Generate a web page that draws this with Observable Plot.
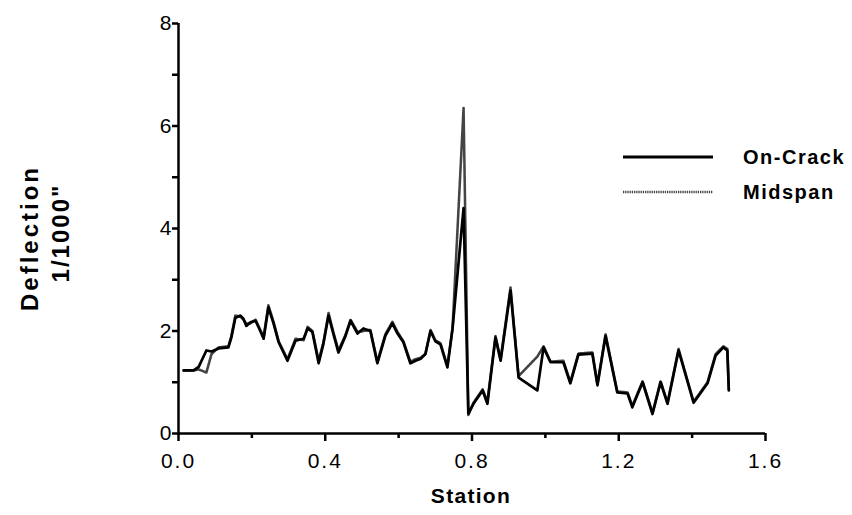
<!DOCTYPE html>
<html>
<head>
<meta charset="utf-8">
<script src="https://cdn.jsdelivr.net/npm/d3@7"></script>
<script src="https://cdn.jsdelivr.net/npm/@observablehq/plot@0.6"></script>
<style>
  body { margin: 0; background: #fff; }
  #wrap { position: relative; width: 852px; height: 515px; font-family: "Liberation Sans", Arial, sans-serif; }
  #wrap svg g[aria-label="x-axis tick label"] text { letter-spacing: 2px; }
  .lab { position: absolute; font-weight: bold; color: #000; white-space: nowrap; }
</style>
</head>
<body>
<div id="wrap"></div>
<script>
const stations = [0.014,0.041,0.055,0.076,0.090,0.109,0.136,0.144,0.155,0.169,0.177,0.185,0.196,0.210,0.223,0.232,0.245,0.259,0.273,0.297,0.319,0.341,0.352,0.365,0.382,0.395,0.409,0.422,0.436,0.455,0.469,0.488,0.504,0.523,0.542,0.564,0.583,0.597,0.613,0.632,0.646,0.660,0.673,0.687,0.700,0.714,0.733,0.747,0.777,0.790,0.804,0.829,0.842,0.864,0.878,0.905,0.927,0.978,0.995,1.014,1.049,1.068,1.090,1.128,1.142,1.164,1.196,1.224,1.237,1.265,1.292,1.314,1.333,1.363,1.404,1.442,1.464,1.485,1.496,1.500];
const onCrack = [1.23,1.23,1.30,1.62,1.60,1.66,1.68,1.87,2.26,2.30,2.24,2.10,2.17,2.20,2.00,1.85,2.46,2.15,1.78,1.42,1.81,1.85,2.05,1.98,1.37,1.75,2.30,1.95,1.58,1.90,2.20,1.95,2.05,2.00,1.37,1.91,2.15,1.95,1.78,1.37,1.42,1.46,1.55,2.00,1.80,1.74,1.29,2.05,4.40,0.39,0.58,0.84,0.58,1.87,1.42,2.79,1.09,0.84,1.68,1.39,1.39,0.98,1.54,1.56,0.94,1.90,0.80,0.78,0.51,1.00,0.38,1.00,0.58,1.62,0.60,0.98,1.52,1.68,1.62,0.84];
const midspan = [1.23,1.23,1.25,1.19,1.55,1.68,1.70,1.90,2.30,2.28,2.22,2.14,2.15,2.22,2.02,1.88,2.50,2.18,1.80,1.45,1.85,1.82,2.08,2.00,1.42,1.78,2.35,1.98,1.62,1.92,2.22,1.98,2.00,2.02,1.40,1.94,2.18,1.98,1.80,1.40,1.45,1.48,1.55,2.02,1.82,1.76,1.32,2.05,6.35,0.36,0.60,0.86,0.62,1.90,1.45,2.85,1.12,1.50,1.70,1.40,1.42,1.00,1.56,1.58,0.96,1.94,0.82,0.80,0.54,1.02,0.40,1.02,0.60,1.65,0.62,1.00,1.55,1.70,1.65,0.86];
const xTicks = [0, 0.4, 0.8, 1.2, 1.6];
const xMinor = [0.2, 0.6, 1.0, 1.4];
const yTicks = [0, 2, 4, 6, 8];
const yMinor = [1, 3, 5, 7];
const seriesNames = ["On-Crack", "Midspan"];
const xTitle = "Station";
const yTitle = ["Deflection", "1/1000\""];

const crackData = stations.map((s, i) => ({x: s, y: onCrack[i]}));
const midData = stations.map((s, i) => ({x: s, y: midspan[i]}));

const chart = Plot.plot({
  width: 852, height: 515,
  marginLeft: 178, marginRight: 87, marginTop: 23, marginBottom: 82,
  style: {fontFamily: "Liberation Sans, Arial, sans-serif", fontSize: "21px", background: "#fff"},
  x: {domain: [0, 1.6]},
  y: {domain: [0, 8]},
  marks: [
    Plot.line(midData, {x: "x", y: "y", stroke: "#444", strokeWidth: 2.6, strokeDasharray: "1.3,0.9"}),
    Plot.line(crackData, {x: "x", y: "y", stroke: "#000", strokeWidth: 2.7}),
    Plot.axisX({ticks: xTicks, tickSize: 8, tickPadding: 12, tickFormat: d3.format(".1f"), label: null, strokeWidth: 2.5, fontSize: 21}),
    Plot.axisX({ticks: xMinor, tickSize: 5, tickFormat: () => "", label: null, strokeWidth: 2.5}),
    Plot.axisY({ticks: yTicks, tickSize: 6, tickPadding: 1, label: null, strokeWidth: 2.5, fontSize: 21}),
    Plot.axisY({ticks: yMinor, tickSize: 6, tickFormat: () => "", label: null, strokeWidth: 2.5}),
    Plot.ruleY([0], {strokeWidth: 2.5}),
    Plot.ruleX([0], {strokeWidth: 2.5})
  ]
});
const wrap = document.getElementById("wrap");
wrap.appendChild(chart);

function addLabel(text, left, top, rotate, size, spacing) {
  const d = document.createElement("div");
  d.className = "lab";
  d.textContent = text;
  d.style.left = left + "px";
  d.style.top = top + "px";
  d.style.fontSize = size + "px";
  d.style.letterSpacing = spacing + "px";
  d.style.transform = "translate(-50%,-50%)" + (rotate ? " rotate(-90deg)" : "");
  wrap.appendChild(d);
}
addLabel(xTitle, 471, 496, false, 21, 1.3);
addLabel(yTitle[0], 30, 238, true, 24, 3);
addLabel(yTitle[1], 61, 233, true, 24, 2);

// legend
const legend = document.createElement("div");
legend.style.position = "absolute";
legend.style.left = "623px";
legend.style.top = "145px";
const styles = [{stroke: "#000", dash: null, w: 2.8}, {stroke: "#444", dash: "1.3,0.9", w: 2.4}];
seriesNames.forEach((name, i) => {
  const row = document.createElement("div");
  row.style.display = "flex";
  row.style.alignItems = "center";
  row.style.height = "24px";
  row.style.marginBottom = "11px";
  row.innerHTML = `<svg width="92" height="10" style="margin-right:28px"><line x1="0" x2="90" y1="5" y2="5" stroke="${styles[i].stroke}" stroke-width="${styles[i].w}" ${styles[i].dash ? `stroke-dasharray="${styles[i].dash}"` : ""}/></svg><span style="font-weight:bold;font-size:20px;letter-spacing:1.5px">${name}</span>`;
  legend.appendChild(row);
});
wrap.appendChild(legend);
</script>
</body>
</html>
